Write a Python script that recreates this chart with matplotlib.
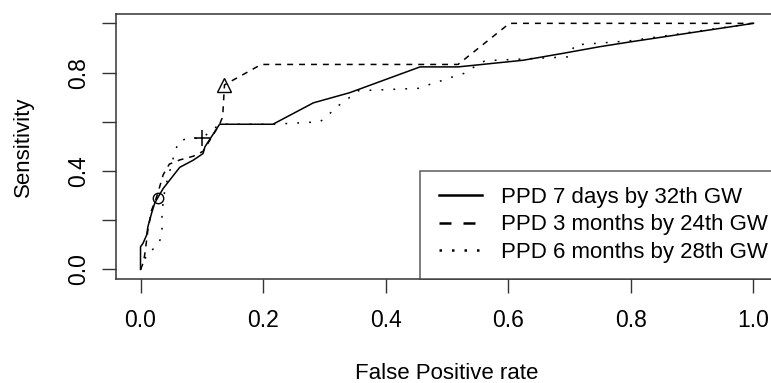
import matplotlib
matplotlib.use("Agg")
import matplotlib.pyplot as plt
from matplotlib.lines import Line2D
from matplotlib.legend_handler import HandlerLine2D

plt.rcParams['font.family'] = ['Liberation Sans', 'DejaVu Sans']

# PPD 7 days by 32th GW (solid)
fpr_7d = [0, 0, 0.004, 0.010, 0.012, 0.018, 0.023, 0.028, 0.037, 0.064, 0.086, 0.102,
          0.105, 0.129, 0.216, 0.282, 0.341, 0.456, 0.518, 0.624, 0.689, 0.749, 0.800, 1.0]
sens_7d = [0, 0.092, 0.106, 0.140, 0.173, 0.228, 0.268, 0.291, 0.329, 0.415, 0.444, 0.471,
           0.498, 0.590, 0.590, 0.677, 0.718, 0.823, 0.823, 0.850, 0.878, 0.905, 0.925, 1.0]

# PPD 3 months by 24th GW (dashed)
fpr_3m = [0, 0.005, 0.008, 0.012, 0.018, 0.027, 0.037, 0.047, 0.064, 0.086, 0.102,
          0.129, 0.134, 0.137, 0.197, 0.518, 0.602, 1.0]
sens_3m = [0, 0.030, 0.080, 0.160, 0.240, 0.300, 0.385, 0.428, 0.445, 0.460, 0.480,
           0.590, 0.620, 0.750, 0.833, 0.833, 1.0, 1.0]

# PPD 6 months by 28th GW (dotted)
fpr_6m = [0, 0.005, 0.010, 0.026, 0.035, 0.035, 0.035, 0.040, 0.050, 0.056, 0.063, 0.080,
          0.100, 0.129, 0.135, 0.216, 0.293, 0.309, 0.322, 0.339, 0.355, 0.453, 0.472, 0.491,
          0.510, 0.528, 0.545, 0.562, 0.700, 0.708, 0.798, 1.0]
sens_6m = [0, 0.020, 0.065, 0.092, 0.135, 0.187, 0.234, 0.330, 0.420, 0.478, 0.523, 0.533,
           0.533, 0.590, 0.590, 0.590, 0.600, 0.634, 0.664, 0.695, 0.726, 0.736, 0.752, 0.767,
           0.783, 0.797, 0.824, 0.848, 0.864, 0.912, 0.929, 1.0]

# marked cut-off points
cut_7d = (0.028, 0.291)
cut_6m = (0.100, 0.533)
cut_3m = (0.137, 0.750)

labels = ["PPD 7 days by 32th GW", "PPD 3 months by 24th GW", "PPD 6 months by 28th GW"]
xticks = [0.0, 0.2, 0.4, 0.6, 0.8, 1.0]
yticks = [0.0, 0.2, 0.4, 0.6, 0.8, 1.0]
ytick_labels = ["0.0", "", "0.4", "", "0.8", ""]

W, H = 771, 383
fig = plt.figure(figsize=(W / 100, H / 100), dpi=100)
ax = fig.add_axes([116 / W, (H - 279.3) / H, 662 / W, 265.8 / H])

lw = 1.1
ax.plot(fpr_7d, sens_7d, color='black', lw=lw)
ax.plot(fpr_3m, sens_3m, color='black', lw=lw, dashes=(3.9, 3.9))
ax.plot(fpr_6m, sens_6m, color='black', lw=lw, dashes=(1.2, 6.6))

ax.plot(*cut_7d, marker='o', ms=7.5, mfc='none', mec='black', mew=1.0)
ax.plot(*cut_6m, marker='+', ms=11, mec='black', mew=1.1)
ax.plot(*cut_3m, marker='^', ms=9.5, mfc='none', mec='black', mew=1.0)

ax.set_xlim(-0.04, 1.04)
ax.set_ylim(-0.04, 1.04)
ax.set_xticks(xticks)
ax.set_xticklabels([f"{t:.1f}" for t in xticks])
ax.set_yticks(yticks)
ax.set_yticklabels(ytick_labels, rotation=90, va='center')
ax.tick_params(axis='both', length=10, width=1.0, labelsize=16.5, color='#333333')
ax.tick_params(axis='x', pad=11.5)
ax.tick_params(axis='y', pad=8.5)
for s in ax.spines.values():
    s.set_linewidth(1.1)
    s.set_color('#333333')

fig.text(447 / W, 1 - 373.5 / H, "False Positive rate", ha='center', va='center', fontsize=16)
fig.text(23.3 / W, 1 - 146.5 / H, "Sensitivity", ha='center', va='center', rotation=90, fontsize=16)

handles = [Line2D([], [], color='black', lw=1.8),
           Line2D([], [], color='black', lw=1.8, dashes=(4.8, 4.8)),
           Line2D([], [], color='black', lw=1.8, dashes=(1, 4))]
leg = ax.legend(handles, labels, loc='lower left', bbox_to_anchor=((420 - 116) / 662, 0),
                fontsize=16, frameon=True, fancybox=False, borderpad=0.73, labelspacing=0.30,
                handlelength=2.05, handletextpad=0.87, borderaxespad=0,
                handler_map={Line2D: HandlerLine2D(xpad=0.14)})
leg.get_frame().set_edgecolor('#333333')
leg.get_frame().set_linewidth(1.1)

fig.savefig("out.png", dpi=100)
